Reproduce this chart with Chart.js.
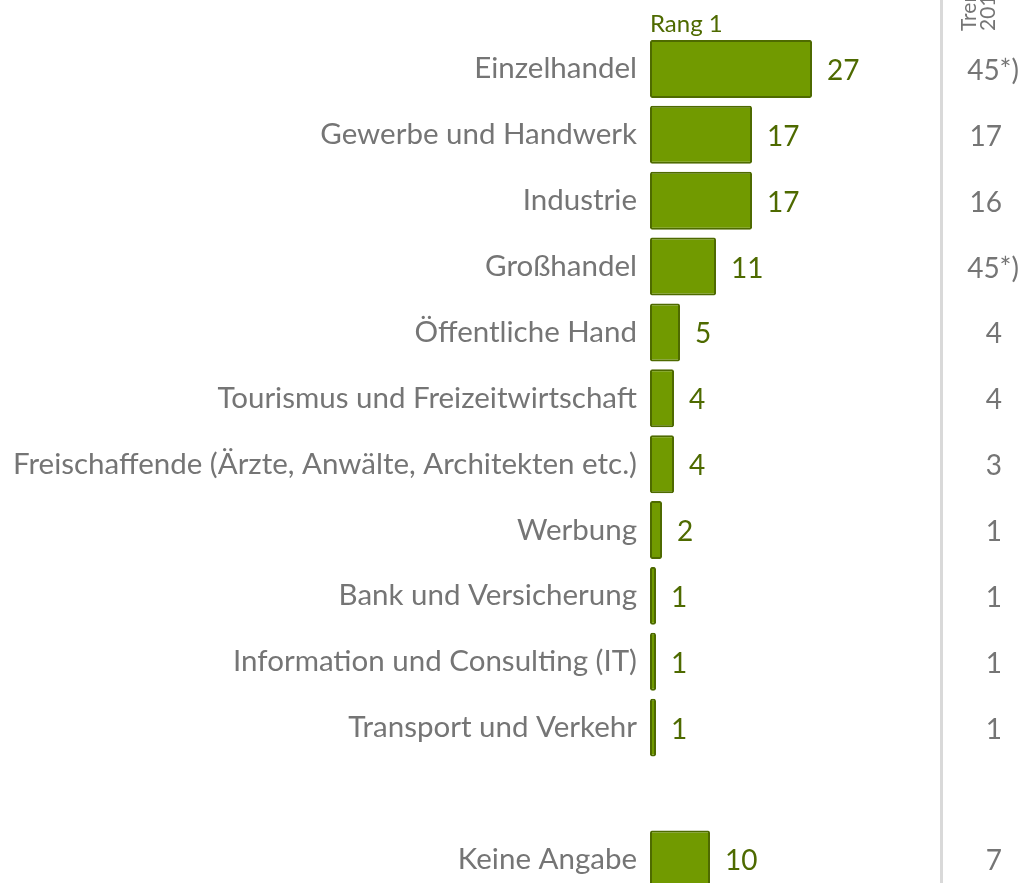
<!DOCTYPE html>
<html>
<head>
<meta charset="utf-8">
<script src="https://cdn.jsdelivr.net/npm/chart.js@4"></script>
<style>
  html, body { margin: 0; padding: 0; background: #fff; overflow: hidden; }
  canvas { display: block; }
</style>
</head>
<body>
<canvas id="chart" width="1022" height="915"></canvas>
<script>
const CATEGORIES = [
  'Einzelhandel',
  'Gewerbe und Handwerk',
  'Industrie',
  'Großhandel',
  'Öffentliche Hand',
  'Tourismus und Freizeitwirtschaft',
  'Freischaffende (Ärzte, Anwälte, Architekten etc.)',
  'Werbung',
  'Bank und Versicherung',
  'Information und Consulting (IT)',
  'Transport und Verkehr',
  '',
  'Keine Angabe',
];
const RANG1 = [27, 17, 17, 11, 5, 4, 4, 2, 1, 1, 1, null, 10];
const TREND = ['45*)', '17', '16', '45*)', '4', '4', '3', '1', '1', '1', '1', '', '7'];
const SERIES_LABEL = 'Rang 1';
const TREND_HEADER = ['Trend', '2019'];

const FONT = 'Lato, sans-serif';
const GREEN_DARK = '#4e6a00';
const GREY = '#757575';

const extras = {
  id: 'extras',
  afterDatasetsDraw(chart) {
    const { ctx, chartArea } = chart;
    const meta = chart.getDatasetMeta(0);
    const y = chart.scales.y;
    ctx.save();

    // Werte neben den Balken
    ctx.font = '28px ' + FONT;
    ctx.fillStyle = GREEN_DARK;
    ctx.textAlign = 'left';
    ctx.textBaseline = 'middle';
    meta.data.forEach((bar, i) => {
      if (RANG1[i] == null) return;
      ctx.fillText(String(RANG1[i]), bar.x + 15, bar.y + 2);
    });

    // Reihentitel
    ctx.font = '24px ' + FONT;
    ctx.textBaseline = 'alphabetic';
    ctx.fillText(SERIES_LABEL, chartArea.left, 32);

    // Trennlinie
    ctx.strokeStyle = '#d9d9d9';
    ctx.lineWidth = 3;
    ctx.beginPath();
    ctx.moveTo(941.5, 0);
    ctx.lineTo(941.5, chart.height);
    ctx.stroke();

    // Trend-Spalte
    ctx.font = '28px ' + FONT;
    ctx.fillStyle = GREY;
    ctx.textBaseline = 'middle';
    ctx.textAlign = 'right';
    TREND.forEach((t, i) => {
      if (!t) return;
      const yy = y.getPixelForValue(i) + 2;
      ctx.fillText(t, t.includes('*') ? 1019 : 1002, yy);
    });

    // gedrehte Kopfzeile (oben abgeschnitten)
    ctx.font = '21px ' + FONT;
    ctx.textAlign = 'left';
    ctx.textBaseline = 'alphabetic';
    TREND_HEADER.forEach((h, i) => {
      ctx.save();
      ctx.translate(976 + i * 19, 31);
      ctx.rotate(-Math.PI / 2);
      ctx.fillText(h, 0, 0);
      ctx.restore();
    });

    ctx.restore();
  }
};

new Chart(document.getElementById('chart'), {
  type: 'bar',
  data: {
    labels: CATEGORIES,
    datasets: [{
      label: SERIES_LABEL,
      data: RANG1,
      backgroundColor: '#719a00',
      borderColor: GREEN_DARK,
      borderWidth: 2,
      borderSkipped: false,
      borderRadius: 2,
      barPercentage: 0.88,
      categoryPercentage: 1,
    }]
  },
  options: {
    indexAxis: 'y',
    responsive: false,
    animation: false,
    layout: { padding: { top: 36, right: 72, bottom: 0, left: 0 } },
    plugins: { legend: { display: false }, tooltip: { enabled: false } },
    scales: {
      x: {
        min: 0, max: 50,
        display: false,
        grid: { display: false },
      },
      y: {
        grid: { display: false },
        border: { display: false },
        ticks: {
          color: GREY,
          padding: 5,
          autoSkip: false,
          font: { family: FONT, size: 29.5 },
        },
        afterFit: s => { s.width = 650; },
      }
    }
  },
  plugins: [extras]
});
</script>
</body>
</html>
